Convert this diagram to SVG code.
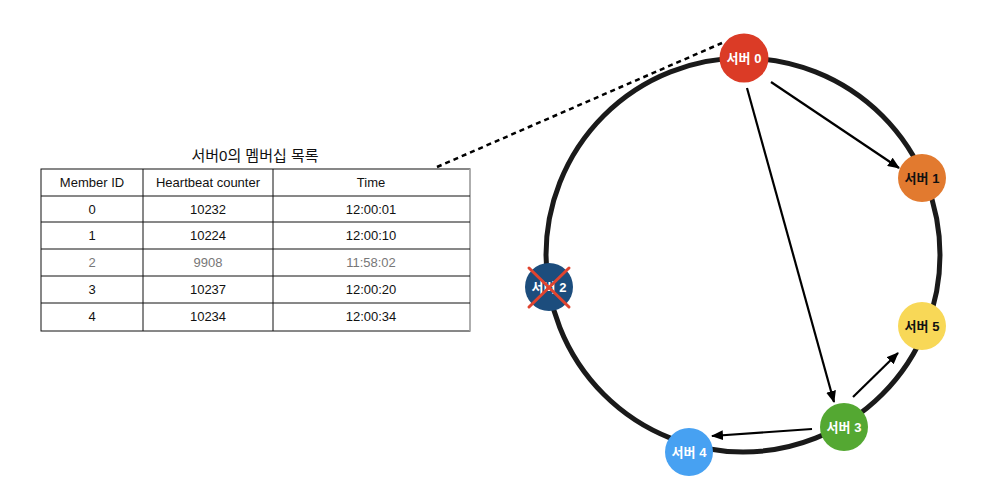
<svg xmlns="http://www.w3.org/2000/svg" width="988" height="500" viewBox="0 0 988 500">
<style>
.cell{font-family:"Liberation Sans",Arial,sans-serif;font-size:13px;fill:#111;text-anchor:middle}
.dim{fill:#777}
.grid{stroke:#111;stroke-width:1;fill:none}
.lbl{font-family:"Liberation Sans","Noto Sans CJK KR",sans-serif;font-size:13px;font-weight:bold;text-anchor:middle;fill:#fff}
.dk{fill:#111}
.edge{stroke:#000;stroke-width:2.2;fill:none}
</style>
<defs>
<marker id="ah" viewBox="0 0 12 10" refX="11" refY="5" markerWidth="12" markerHeight="10" markerUnits="userSpaceOnUse" orient="auto">
<path d="M0,0 L12,5 L0,10 Z" fill="#000"/>
</marker>
</defs>
<rect width="988" height="500" fill="#fff"/>
<g id="table">
<text x="255" y="161" font-family="'Liberation Sans','Noto Sans CJK KR',sans-serif" font-size="15" text-anchor="middle" fill="#111">서버0의 멤버십 목록</text>
<rect x="41" y="169" width="429" height="162" class="grid"/>
<line x1="470" y1="169" x2="470" y2="331" stroke="#bbb" stroke-width="1.5"/>
<line x1="143" y1="169" x2="143" y2="331" class="grid"/>
<line x1="273" y1="169" x2="273" y2="331" class="grid"/>
<line x1="41" y1="196" x2="470" y2="196" class="grid"/>
<line x1="41" y1="222" x2="470" y2="222" class="grid"/>
<line x1="41" y1="249" x2="470" y2="249" class="grid"/>
<line x1="41" y1="276" x2="470" y2="276" class="grid"/>
<line x1="41" y1="303" x2="470" y2="303" class="grid"/>
<text class="cell" x="92" y="187">Member ID</text>
<text class="cell" x="208" y="187">Heartbeat counter</text>
<text class="cell" x="371" y="187">Time</text>
<text class="cell" x="92" y="214">0</text>
<text class="cell" x="208" y="214">10232</text>
<text class="cell" x="371" y="214">12:00:01</text>
<text class="cell" x="92" y="240">1</text>
<text class="cell" x="208" y="240">10224</text>
<text class="cell" x="371" y="240">12:00:10</text>
<text class="cell dim" x="92" y="267">2</text>
<text class="cell dim" x="208" y="267">9908</text>
<text class="cell dim" x="371" y="267">11:58:02</text>
<text class="cell" x="92" y="294">3</text>
<text class="cell" x="208" y="294">10237</text>
<text class="cell" x="371" y="294">12:00:20</text>
<text class="cell" x="92" y="321">4</text>
<text class="cell" x="208" y="321">10234</text>
<text class="cell" x="371" y="321">12:00:34</text>
</g>
<g id="ring">
<circle cx="743" cy="255" r="197" fill="none" stroke="#1a1a1a" stroke-width="5"/>
</g>
<g id="connectors">
<line x1="437" y1="167" x2="722" y2="43" stroke="#000" stroke-width="2.5" stroke-dasharray="5,4"/>
<line class="edge" x1="771" y1="82" x2="899" y2="168" marker-end="url(#ah)"/>
<line class="edge" x1="747" y1="88" x2="834" y2="402" marker-end="url(#ah)"/>
<line class="edge" x1="853" y1="397" x2="898" y2="353" marker-end="url(#ah)"/>
<line class="edge" x1="812" y1="429" x2="712" y2="436" marker-end="url(#ah)"/>
</g>
<g id="server0">
<circle cx="744" cy="58" r="24.5" fill="#db3b26"/>
<text class="lbl" x="744" y="63">서버 0</text>
</g>
<g id="server1">
<circle cx="922" cy="178" r="24" fill="#e27a2f"/>
<text class="lbl dk" x="922" y="183">서버 1</text>
</g>
<g id="server5">
<circle cx="922" cy="326" r="24" fill="#f8d857"/>
<text class="lbl dk" x="922" y="331">서버 5</text>
</g>
<g id="server3">
<circle cx="844" cy="427" r="24" fill="#54a832"/>
<text class="lbl" x="844" y="432">서버 3</text>
</g>
<g id="server4">
<circle cx="689" cy="452" r="24" fill="#47a1f2"/>
<text class="lbl" x="689" y="457">서버 4</text>
</g>
<g id="server2">
<circle cx="549" cy="287" r="24" fill="#1c4d7d"/>
<text class="lbl" x="549" y="292">서버 2</text>
<line x1="529" y1="268" x2="569" y2="307" stroke="#e0442f" stroke-width="3" stroke-linecap="round"/>
<line x1="569" y1="268" x2="529" y2="307" stroke="#e0442f" stroke-width="3" stroke-linecap="round"/>
</g>
</svg>
